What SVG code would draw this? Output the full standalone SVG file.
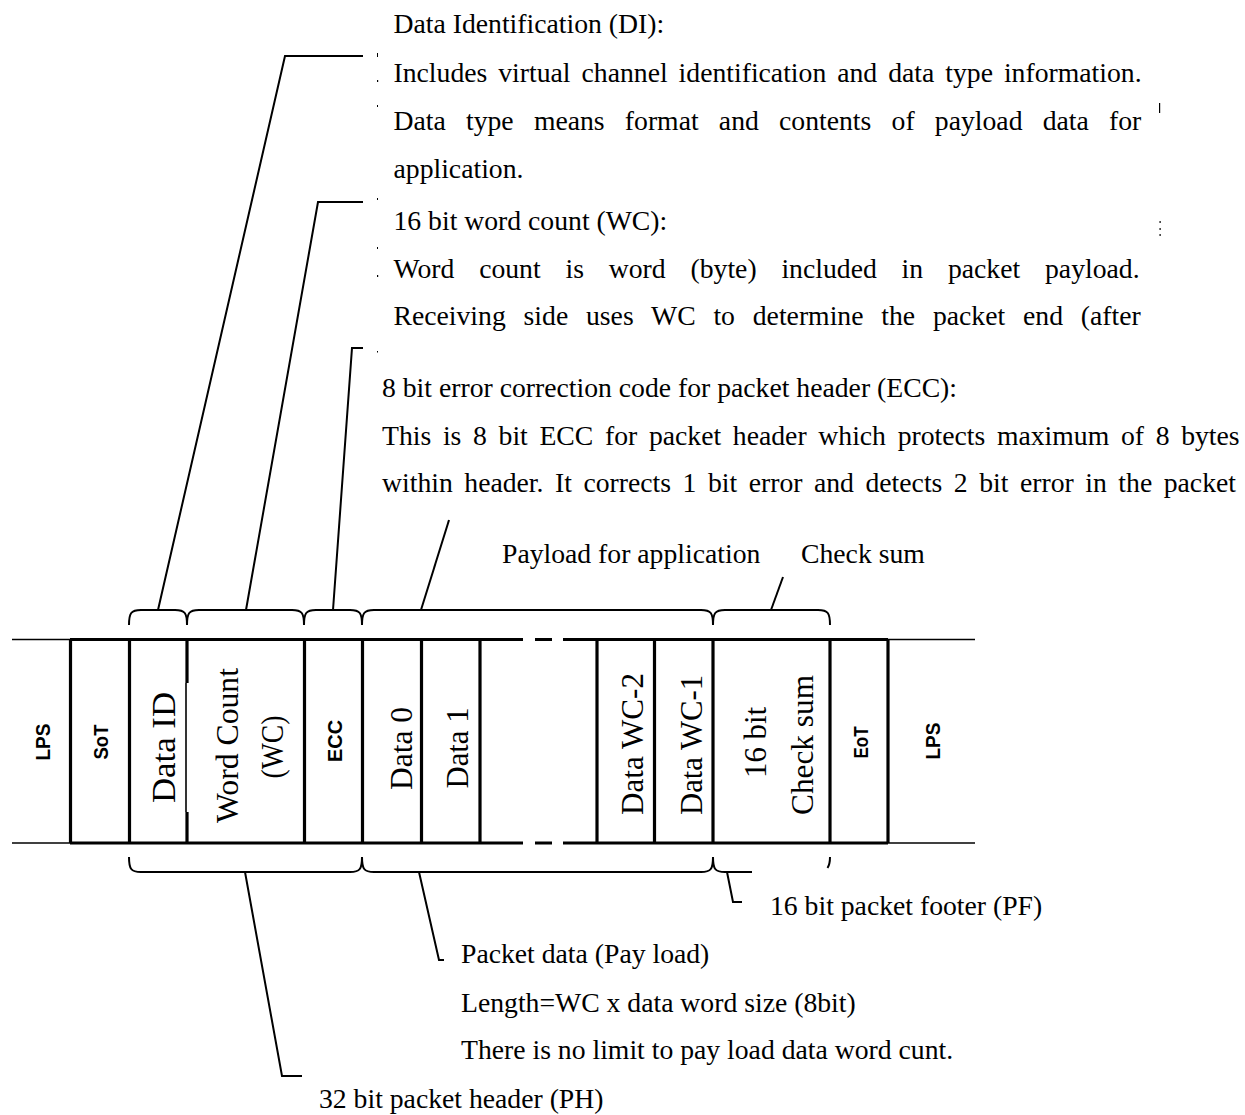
<svg xmlns="http://www.w3.org/2000/svg" width="1245" height="1115" viewBox="0 0 1245 1115">
<style>
.ann{font-family:"Liberation Serif","Times New Roman",serif;font-size:27.7px;fill:#000}
.cell{font-family:"Liberation Serif","Times New Roman",serif;font-size:31px;fill:#000;text-anchor:middle}
.sans{font-family:"Liberation Sans",Arial,sans-serif;font-size:21px;font-weight:bold;fill:#000;text-anchor:middle}
.thick{stroke:#000;stroke-width:3.2;fill:none}
.thin{stroke:#000;stroke-width:1.6;fill:none}
.brace{stroke:#000;stroke-width:2;fill:none}
.ptr{stroke:#000;stroke-width:2;fill:none;stroke-linejoin:miter}
.dot{fill:#000}
</style>
<rect width="1245" height="1115" fill="#fff"/>

<!-- frame lines -->
<g id="frame">
  <line class="thin" x1="12" y1="639.5" x2="70" y2="639.5"/>
  <line class="thin" x1="12" y1="843" x2="70" y2="843"/>
  <line class="thin" x1="888" y1="639.5" x2="975" y2="639.5"/>
  <line class="thin" x1="888" y1="843" x2="975" y2="843"/>
  <path class="thick" d="M70,639.5 H523 M535,639.5 H552 M563,639.5 H888"/>
  <path class="thick" d="M70,843 H523 M535,843 H552 M563,843 H888"/>
</g>

<g id="cell-lps-left">
  <text class="sans" transform="translate(50,742) rotate(-90)" textLength="37" lengthAdjust="spacingAndGlyphs">LPS</text>
</g>
<g id="cell-sot">
  <line class="thick" x1="70.5" y1="639.5" x2="70.5" y2="843"/>
  <text class="sans" transform="translate(108,742) rotate(-90)" textLength="35" lengthAdjust="spacingAndGlyphs">SoT</text>
</g>
<g id="cell-data-id">
  <line class="thick" x1="129.5" y1="639.5" x2="129.5" y2="843"/>
  <text class="cell" style="font-size:34px" transform="translate(175,747.5) rotate(-90)" textLength="111" lengthAdjust="spacingAndGlyphs">Data ID</text>
</g>
<g id="cell-word-count">
  <path class="thick" d="M187,639.5 V683 M187,812 V843"/>
  <line x1="186" y1="683" x2="186" y2="812" stroke="#000" stroke-width="1.6"/>
  <text class="cell" transform="translate(238,745.5) rotate(-90)" textLength="155" lengthAdjust="spacingAndGlyphs">Word Count</text>
  <text class="cell" transform="translate(283,747) rotate(-90)" textLength="63" lengthAdjust="spacingAndGlyphs">(WC)</text>
</g>
<g id="cell-ecc">
  <line class="thick" x1="304.5" y1="639.5" x2="304.5" y2="843"/>
  <text class="sans" transform="translate(342,741) rotate(-90)" textLength="42" lengthAdjust="spacingAndGlyphs">ECC</text>
</g>
<g id="cell-data0">
  <line class="thick" x1="362.5" y1="639.5" x2="362.5" y2="843"/>
  <text class="cell" transform="translate(412,748.5) rotate(-90)" textLength="83" lengthAdjust="spacingAndGlyphs">Data 0</text>
</g>
<g id="cell-data1">
  <line class="thick" x1="421.5" y1="639.5" x2="421.5" y2="843"/>
  <text class="cell" transform="translate(468,748) rotate(-90)" textLength="81" lengthAdjust="spacingAndGlyphs">Data 1</text>
</g>
<g id="cell-gap">
  <line class="thick" x1="480" y1="639.5" x2="480" y2="843"/>
</g>
<g id="cell-data-wc2">
  <line class="thick" x1="597" y1="639.5" x2="597" y2="843"/>
  <text class="cell" transform="translate(643,744) rotate(-90)" textLength="142" lengthAdjust="spacingAndGlyphs">Data WC-2</text>
</g>
<g id="cell-data-wc1">
  <line class="thick" x1="654.5" y1="639.5" x2="654.5" y2="843"/>
  <text class="cell" transform="translate(702,745) rotate(-90)" textLength="140" lengthAdjust="spacingAndGlyphs">Data WC-1</text>
</g>
<g id="cell-checksum">
  <line class="thick" x1="713" y1="639.5" x2="713" y2="843"/>
  <text class="cell" transform="translate(766,742.5) rotate(-90)" textLength="71" lengthAdjust="spacingAndGlyphs">16 bit</text>
  <text class="cell" transform="translate(813,745) rotate(-90)" textLength="140" lengthAdjust="spacingAndGlyphs">Check sum</text>
</g>
<g id="cell-eot">
  <line class="thick" x1="830" y1="639.5" x2="830" y2="843"/>
  <text class="sans" transform="translate(868,742.5) rotate(-90)" textLength="32" lengthAdjust="spacingAndGlyphs">EoT</text>
  <line class="thick" x1="888" y1="639.5" x2="888" y2="843"/>
</g>
<g id="cell-lps-right">
  <text class="sans" transform="translate(940,741) rotate(-90)" textLength="37" lengthAdjust="spacingAndGlyphs">LPS</text>
</g>

<!-- braces -->
<g id="braces-top">
  <path class="brace" d="M129,625 C129,613 131,610 141,610 H175 C185,610 187,613 187,625"/>
  <path class="brace" d="M187,625 C187,613 189,610 199,610 H292 C302,610 304,613 304,625"/>
  <path class="brace" d="M304,625 C304,613 306,610 316,610 H350 C360,610 362,613 362,625"/>
  <path class="brace" d="M362,625 C362,613 364,610 374,610 H701 C711,610 713,613 713,625"/>
  <path class="brace" d="M713,625 C713,613 715,610 725,610 H818 C828,610 830,613 830,625"/>
</g>
<g id="braces-bottom">
  <path class="brace" d="M129,857 C129,869 131,872 141,872 H350 C360,872 362,869 362,857"/>
  <path class="brace" d="M362,857 C362,869 364,872 374,872 H701 C711,872 713,869 713,857"/>
  <path class="brace" d="M713,857 C713,869 715,872 725,872 H752"/>
  <path class="brace" d="M830,857 C830,862 829.5,865 827.5,868"/>
</g>

<!-- connectors -->
<g id="connectors">
  <polyline class="ptr" points="363,56 285,56 158,610"/>
  <polyline class="ptr" points="363,202 318,202 246,610"/>
  <polyline class="ptr" points="363,348 352,348 333,610"/>
  <line class="ptr" x1="449" y1="520" x2="421" y2="610"/>
  <line class="ptr" x1="783" y1="577" x2="771" y2="610"/>
  <polyline class="ptr" points="245,872 282,1076 302,1076"/>
  <polyline class="ptr" points="419,872 439,960 444,960"/>
  <polyline class="ptr" points="727,872 733,902 742,902"/>
</g>

<!-- small marks -->
<g id="marks">
  <rect class="dot" x="377" y="53" width="1" height="4"/>
  <rect class="dot" x="377" y="80" width="1.2" height="2"/>
  <rect class="dot" x="377" y="105" width="1" height="2"/>
  <rect class="dot" x="377" y="198" width="1" height="2"/>
  <rect class="dot" x="377" y="247" width="1" height="2"/>
  <rect class="dot" x="377" y="275" width="1.2" height="2"/>
  <rect class="dot" x="377" y="351" width="1" height="1.5"/>
  <rect class="dot" x="1159" y="103" width="1.2" height="10"/>
  <rect class="dot" x="1159.5" y="221" width="1.2" height="2"/>
  <rect class="dot" x="1159.5" y="228" width="1.2" height="2"/>
  <rect class="dot" x="1159.5" y="234" width="1.2" height="2"/>
</g>

<!-- annotations -->
<g id="note-di">
  <text class="ann" x="393.5" y="33">Data Identification (DI):</text>
  <text class="ann" x="393.5" y="82" word-spacing="4.06">Includes virtual channel identification and data type information.</text>
  <text class="ann" x="393.5" y="130" word-spacing="13.3">Data type means format and contents of payload data for</text>
  <text class="ann" x="393.5" y="178">application.</text>
</g>
<g id="note-wc">
  <text class="ann" x="393.5" y="230">16 bit word count (WC):</text>
  <text class="ann" x="393.5" y="278" word-spacing="17.9">Word count is word (byte) included in packet payload.</text>
  <text class="ann" x="393.5" y="325" word-spacing="10.9">Receiving side uses WC to determine the packet end (after</text>
</g>
<g id="note-ecc">
  <text class="ann" x="382" y="397">8 bit error correction code for packet header (ECC):</text>
  <text class="ann" x="382" y="445" word-spacing="4.75">This is 8 bit ECC for packet header which protects maximum of 8 bytes</text>
  <text class="ann" x="382" y="492" word-spacing="4.6">within header. It corrects 1 bit error and detects 2 bit error in the packet</text>
</g>
<g id="label-payload">
  <text class="ann" x="502" y="563">Payload for application</text>
</g>
<g id="label-checksum">
  <text class="ann" x="801" y="563">Check sum</text>
</g>
<g id="label-pf">
  <text class="ann" x="770" y="915">16 bit packet footer (PF)</text>
</g>
<g id="label-packet-data">
  <text class="ann" x="461" y="963">Packet data (Pay load)</text>
  <text class="ann" x="461" y="1012">Length=WC x data word size (8bit)</text>
  <text class="ann" x="461" y="1059">There is no limit to pay load data word cunt.</text>
</g>
<g id="label-ph">
  <text class="ann" x="319" y="1108">32 bit packet header (PH)</text>
</g>
</svg>
